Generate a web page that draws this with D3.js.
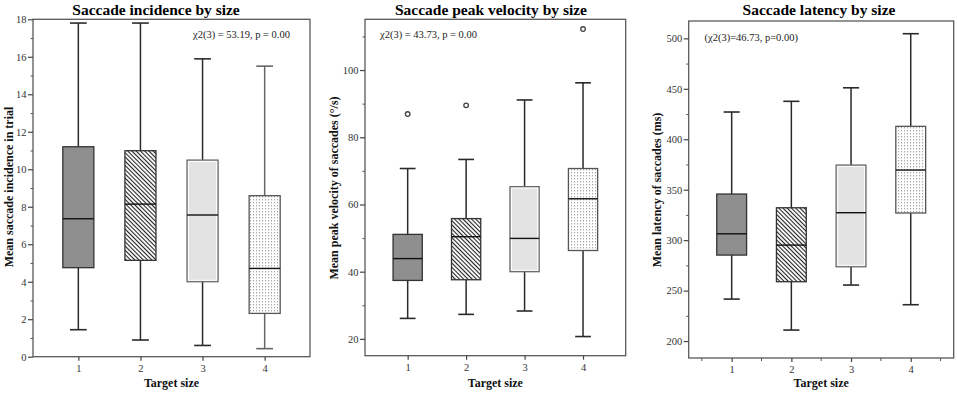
<!DOCTYPE html>
<html>
<head>
<meta charset="utf-8">
<script src="https://cdn.jsdelivr.net/npm/d3@7/dist/d3.min.js"></script>
<style>
  html, body { margin: 0; padding: 0; background: #fff; }
  svg { display: block; }
  text { font-family: "Liberation Serif", "Times New Roman", serif; }
</style>
</head>
<body>
<svg id="chart" width="957" height="395"></svg>
<script>
// ---------- DATA ----------
const categories = ["1", "2", "3", "4"];
const boxFills = ["dark", "hatch", "light", "dots"];

// [lower whisker, Q1, median, Q3, upper whisker]
const incidenceBoxes = [
  [1.44, 4.75, 7.36, 11.2, 17.8],
  [0.89, 5.14, 8.14, 10.99, 17.8],
  [0.60, 4.00, 7.56, 10.49, 15.89],
  [0.43, 2.31, 4.71, 8.59, 15.5]
];
const incidenceOutliers = [[], [], [], []];
const incidenceTicks = [0, 2, 4, 6, 8, 10, 12, 14, 16, 18];
const incidenceMinor = [1, 3, 5, 7, 9, 11, 13, 15, 17];

const velocityBoxes = [
  [26.1, 37.4, 43.9, 51.1, 70.7],
  [27.3, 37.6, 50.4, 55.8, 73.4],
  [28.3, 40.0, 49.9, 65.3, 91.1],
  [20.7, 46.3, 61.7, 70.7, 96.2]
];
const velocityOutliers = [[86.9], [89.5], [], [112.2]];
const velocityTicks = [20, 40, 60, 80, 100];
const velocityMinor = [30, 50, 70, 90, 110];

const latencyBoxes = [
  [241.6, 285.2, 306.3, 345.7, 427.0],
  [210.9, 258.8, 295.1, 332.1, 437.6],
  [255.5, 273.6, 327.2, 374.4, 451.0],
  [236.0, 326.9, 369.5, 412.8, 504.6]
];
const latencyOutliers = [[], [], [], []];
const latencyTicks = [200, 250, 300, 350, 400, 450, 500];
const latencyMinor = [225, 275, 325, 375, 425, 475];

const titles = ["Saccade incidence by size", "Saccade peak velocity by size", "Saccade latency by size"];
const yLabels = ["Mean saccade incidence in trial", "Mean peak velocity of saccades (°/s)", "Mean latency of saccades (ms)"];
const xLabel = "Target size";
const statLabels = ["χ2(3) = 53.19, p = 0.00", "χ2(3) = 43.73, p = 0.00", "(χ2(3)=46.73, p=0.00)"];

// ---------- DRAW ----------
const svg = d3.select("#chart");
const defs = svg.append("defs");

const hatch = defs.append("pattern").attr("id", "hatch")
  .attr("patternUnits", "userSpaceOnUse").attr("width", 3).attr("height", 3)
  .attr("patternTransform", "rotate(45)");
hatch.append("rect").attr("width", 3).attr("height", 3).attr("fill", "#fff");
hatch.append("line").attr("x1", 0).attr("x2", 3).attr("y1", 1.5).attr("y2", 1.5)
  .attr("stroke", "#222").attr("stroke-width", 1.1);

const dots = defs.append("pattern").attr("id", "dots")
  .attr("patternUnits", "userSpaceOnUse").attr("width", 3).attr("height", 3);
dots.append("rect").attr("width", 3).attr("height", 3).attr("fill", "#fff");
dots.append("rect").attr("x", 1).attr("y", 1).attr("width", 1.1).attr("height", 1.4).attr("fill", "#a8a8a8");

const fillFor = {
  dark: "#8f8f8f",
  hatch: "url(#hatch)",
  light: "#e3e3e3",
  dots: "url(#dots)"
};

const panels = [
  { boxes: incidenceBoxes, outliers: incidenceOutliers, ticks: incidenceTicks, minor: incidenceMinor,
    domain: [0, 18], x0: 33, x1: 310, y0: 19.3, y1: 356.7, pad: 0.73, edgeTicks: false,
    titleX: 156, titleY: 15, yLabX: 10, yLabY: 187, statX: 193, statY: 38, statAnchor: "start" },
  { boxes: velocityBoxes, outliers: velocityOutliers, ticks: velocityTicks, minor: velocityMinor,
    domain: [15, 115.1], x0: 365, x1: 625.7, y0: 19.3, y1: 355.7, pad: 0.73, edgeTicks: false,
    titleX: 491, titleY: 15, yLabX: 335, yLabY: 188, statX: 380, statY: 38, statAnchor: "start" },
  { boxes: latencyBoxes, outliers: latencyOutliers, ticks: latencyTicks, minor: latencyMinor,
    domain: [183.2, 517.2], x0: 688.7, x1: 953.7, y0: 21, y1: 358, pad: 0.72, edgeTicks: true,
    titleX: 819, titleY: 15, yLabX: 658, yLabY: 190, statX: 704.5, statY: 41, statAnchor: "start" }
];

panels.forEach((p, i) => {
  const g = svg.append("g");
  const x = d3.scalePoint().domain(categories).range([p.x0, p.x1]).padding(p.pad);
  const y = d3.scaleLinear().domain(p.domain).range([p.y1, p.y0]);
  const step = x.step();
  const bw = step * 0.5;
  const cw = step * 0.27;

  // Frame
  g.append("rect").attr("x", p.x0).attr("y", p.y0)
    .attr("width", p.x1 - p.x0).attr("height", p.y1 - p.y0)
    .attr("fill", "none").attr("stroke", "#5a5a5a").attr("stroke-width", 1.3);

  // Y axis major
  const yAxis = g.append("g").attr("transform", `translate(${p.x0},0)`)
    .call(d3.axisLeft(y).tickValues(p.ticks).tickSize(5).tickPadding(1.5).tickFormat(d3.format("d")));
  yAxis.select(".domain").remove();
  yAxis.selectAll("line").attr("stroke", "#444").attr("stroke-width", 1.2);
  yAxis.selectAll("text").attr("font-size", 10.5).attr("fill", "#333")
    .style("font-family", "'Liberation Serif', serif");
  // Y axis minor
  const yMin = g.append("g").attr("transform", `translate(${p.x0},0)`)
    .call(d3.axisLeft(y).tickValues(p.minor).tickSize(2.5).tickFormat(""));
  yMin.select(".domain").remove();
  yMin.selectAll("line").attr("stroke", "#555").attr("stroke-width", 1);

  // X axis
  const xAxis = g.append("g").attr("transform", `translate(0,${p.y1})`)
    .call(d3.axisBottom(x).tickSize(4).tickPadding(3.5));
  xAxis.select(".domain").remove();
  xAxis.selectAll("line").attr("stroke", "#444").attr("stroke-width", 1.2);
  xAxis.selectAll("text").attr("font-size", 10.5).attr("fill", "#333")
    .style("font-family", "'Liberation Serif', serif");
  if (p.edgeTicks) {
    const edges = categories.map(c => x(c) - step / 2).concat([x(categories[categories.length - 1]) + step / 2]);
    g.selectAll(".edge").data(edges).enter().append("line")
      .attr("x1", d => d).attr("x2", d => d)
      .attr("y1", p.y1).attr("y2", p.y1 + 3)
      .attr("stroke", "#555").attr("stroke-width", 1);
  }

  // Boxes
  p.boxes.forEach((b, k) => {
    const cx = x(categories[k]);
    const [lo, q1, med, q3, hi] = b;
    const wc = k === 3 && i === 0 ? "#666" : "#2a2a2a";
    // whiskers
    g.append("line").attr("x1", cx).attr("x2", cx).attr("y1", y(q3)).attr("y2", y(hi))
      .attr("stroke", wc).attr("stroke-width", 1.5);
    g.append("line").attr("x1", cx).attr("x2", cx).attr("y1", y(q1)).attr("y2", y(lo))
      .attr("stroke", wc).attr("stroke-width", 1.5);
    g.append("line").attr("x1", cx - cw / 2).attr("x2", cx + cw / 2).attr("y1", y(hi)).attr("y2", y(hi))
      .attr("stroke", wc).attr("stroke-width", 1.6);
    g.append("line").attr("x1", cx - cw / 2).attr("x2", cx + cw / 2).attr("y1", y(lo)).attr("y2", y(lo))
      .attr("stroke", wc).attr("stroke-width", 1.6);
    // box
    const kind = boxFills[k];
    g.append("rect").attr("x", cx - bw / 2).attr("y", y(q3))
      .attr("width", bw).attr("height", y(q1) - y(q3))
      .attr("fill", fillFor[kind])
      .attr("stroke", kind === "light" ? "#6a6a6a" : (kind === "dots" ? "#555" : "#333"))
      .attr("stroke-width", 1.3);
    if (kind === "light") {
      g.append("rect").attr("x", cx - bw / 2 + 1.5).attr("y", y(q3) + 1.5)
        .attr("width", bw - 3).attr("height", y(q1) - y(q3) - 3)
        .attr("fill", "none").attr("stroke", "#fff").attr("stroke-width", 0.9);
    }
    // median
    g.append("line").attr("x1", cx - bw / 2).attr("x2", cx + bw / 2).attr("y1", y(med)).attr("y2", y(med))
      .attr("stroke", "#111").attr("stroke-width", 1.4);
    // outliers
    g.selectAll(null).data(p.outliers[k]).enter().append("circle")
      .attr("cx", cx).attr("cy", d => y(d)).attr("r", 2.3)
      .attr("fill", "#fff").attr("stroke", "#444").attr("stroke-width", 1.3);
  });

  // Texts
  g.append("text").attr("x", p.titleX).attr("y", p.titleY).attr("text-anchor", "middle")
    .attr("font-size", 15.5).attr("font-weight", "bold").attr("fill", "#000").text(titles[i]);
  g.append("text").attr("transform", `translate(${p.yLabX},${p.yLabY}) rotate(-90)`)
    .attr("text-anchor", "middle").attr("dominant-baseline", "middle")
    .attr("font-size", 12).attr("font-weight", "bold").attr("fill", "#111").text(yLabels[i]);
  g.append("text").attr("x", (p.x0 + p.x1) / 2).attr("y", 387).attr("text-anchor", "middle")
    .attr("font-size", 12).attr("font-weight", "bold").attr("fill", "#111").text(xLabel);
  g.append("text").attr("x", p.statX).attr("y", p.statY).attr("text-anchor", p.statAnchor)
    .attr("font-size", 10.5).attr("fill", "#222").text(statLabels[i]);
});
</script>
</body>
</html>
